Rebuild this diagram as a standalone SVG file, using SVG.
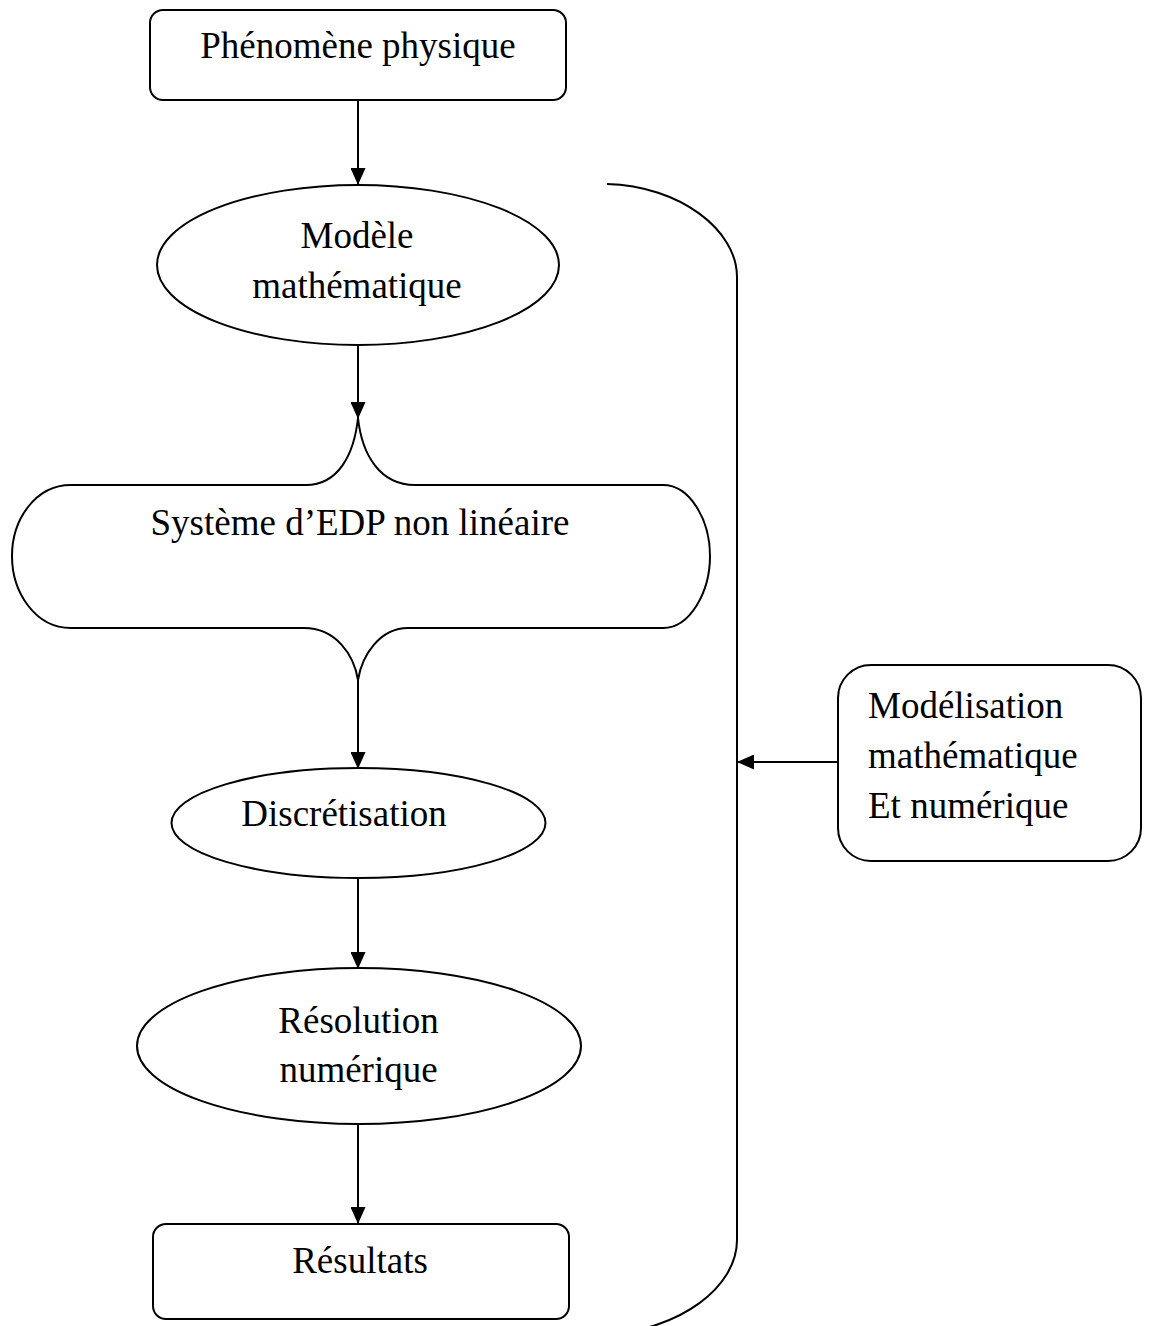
<svg xmlns="http://www.w3.org/2000/svg" width="1152" height="1326" viewBox="0 0 1152 1326">
<style>
.s{fill:#fff;stroke:#000;stroke-width:2}
.t{font-family:"Liberation Serif","Times New Roman",serif;font-size:37px;fill:#000}
.c{text-anchor:middle}
.l{fill:none;stroke:#000;stroke-width:2}
</style>
<defs>
<marker id="ah" markerWidth="17" markerHeight="15" refX="16" refY="7.5" orient="auto" markerUnits="userSpaceOnUse">
<path d="M0,0 L17,7.5 L0,15 Z" fill="#000"/>
</marker>
</defs>
<rect width="1152" height="1326" fill="#fff"/>
<g id="connectors">
<line class="l" x1="358" y1="100" x2="358" y2="184" marker-end="url(#ah)"/>
<line class="l" x1="358" y1="345" x2="358" y2="418" marker-end="url(#ah)"/>
<line class="l" x1="358" y1="680" x2="358" y2="768" marker-end="url(#ah)"/>
<line class="l" x1="358" y1="878" x2="358" y2="968" marker-end="url(#ah)"/>
<line class="l" x1="358" y1="1124" x2="358" y2="1223" marker-end="url(#ah)"/>
<line class="l" x1="838" y1="762" x2="738" y2="762" marker-end="url(#ah)"/>
<path class="l" d="M607,184 C680,186 737,230 737,277 L737,1240 C737,1287 680,1330 607,1334"/>
</g>
<g id="phenomene">
<rect class="s" x="150" y="10" width="416" height="90" rx="13"/>
<text class="t c" x="358" y="58">Phénomène physique</text>
</g>
<g id="modele">
<ellipse class="s" cx="358" cy="265" rx="201" ry="80"/>
<text class="t c" x="357" y="248">Modèle</text>
<text class="t c" x="357" y="298">mathématique</text>
</g>
<g id="systeme">
<path class="s" d="M358,418 C362,455 380,485 415,485 L663,485 C690,485 710,520 710,556 C710,592 690,628 663,628 L408,628 C380,628 362,655 358,680 C354,655 336,628 304,628 L71,628 C35,628 12,592 12,556 C12,520 35,485 71,485 L306,485 C338,485 354,455 358,418 Z"/>
<text class="t c" x="360" y="535">Système d’EDP non linéaire</text>
</g>
<g id="discretisation">
<ellipse class="s" cx="358.5" cy="823" rx="187" ry="55"/>
<text class="t c" x="344" y="826">Discrétisation</text>
</g>
<g id="resolution">
<ellipse class="s" cx="359" cy="1046" rx="222" ry="78"/>
<text class="t c" x="358.5" y="1033">Résolution</text>
<text class="t c" x="358.5" y="1082">numérique</text>
</g>
<g id="resultats">
<rect class="s" x="153" y="1224" width="416" height="95" rx="13"/>
<text class="t c" x="360" y="1273">Résultats</text>
</g>
<g id="modelisation">
<rect class="s" x="838" y="665" width="303" height="196" rx="33"/>
<text class="t" x="868" y="718">Modélisation</text>
<text class="t" x="868" y="768">mathématique</text>
<text class="t" x="868" y="818">Et numérique</text>
</g>
</svg>
